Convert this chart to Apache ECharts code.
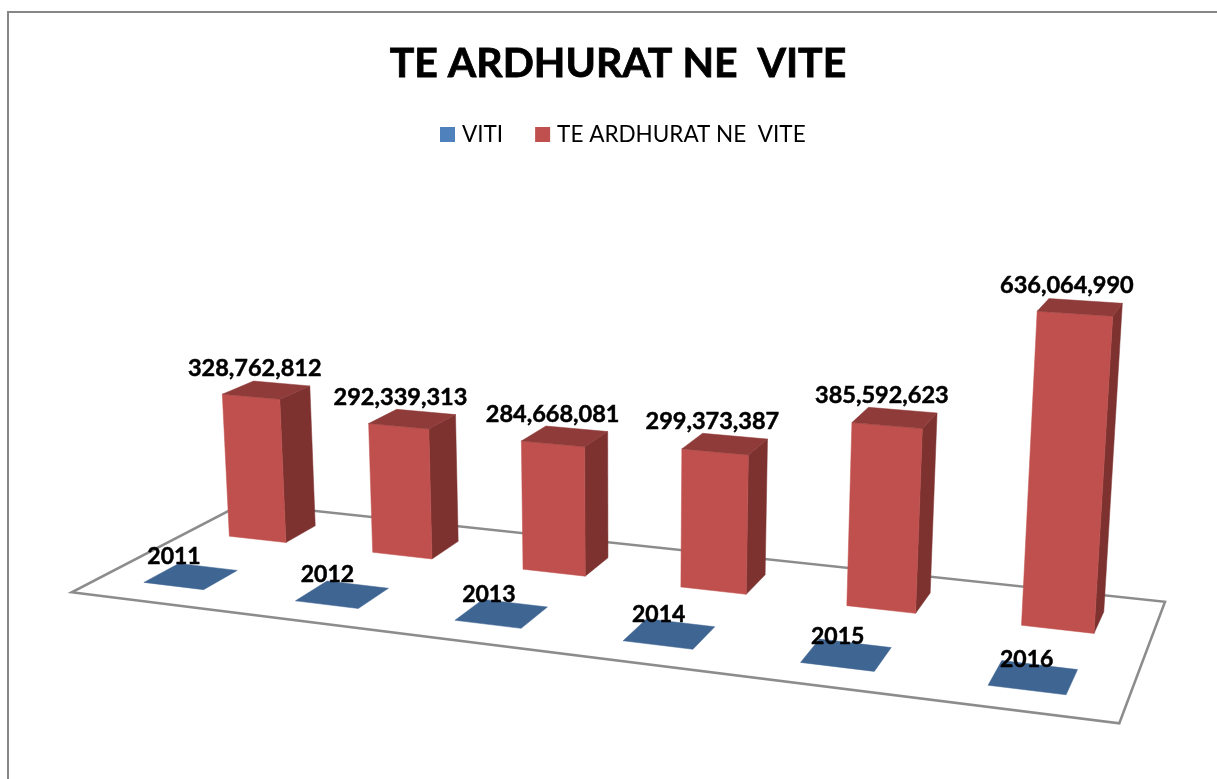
<!DOCTYPE html>
<html>
<head>
<meta charset="utf-8">
<style>html,body{margin:0;padding:0;background:#fff}#c{width:1217px;height:779px}</style>
<script src="https://cdn.jsdelivr.net/npm/echarts@6/dist/echarts.min.js"></script>
</head>
<body>
<div id="c"></div>
<script>
// ---- data ----
const categories = ['2011', '2012', '2013', '2014', '2015', '2016'];
const viti = [2011, 2012, 2013, 2014, 2015, 2016];
const teArdhurat = [328762812, 292339313, 284668081, 299373387, 385592623, 636064990];
const titleText = 'TE ARDHURAT NE  VITE';

// ---- camera: floor square (u,v in 0..1) plus height w (hundreds of millions) to screen ----
const CAM = {
  a: 877.94, b: 206.52, c: 71.7, d: 21.36, e: -16.53, f: 592.3, g: -0.15158, h: 0.14399,
  p: -3.6, q: -49.2, r: -0.00575
};
function project(u, v, w) {
  const W = CAM.g * u + CAM.h * v + 1 + CAM.r * w;
  return [
    (CAM.a * u + CAM.b * v + CAM.c + CAM.p * w) / W,
    (CAM.d * u + CAM.e * v + CAM.f + CAM.q * w) / W
  ];
}
const Y_MAX = 700000000;
const BAR_FRACTION = 0.4;     // share of the category band used by a column
const ROW_HALF_DEPTH = 0.098; // half depth of a column on the floor
const U_SHIFT = -0.0012;      // small sideways nudge of the columns on the floor

function face(points, fill) {
  return { type: 'polygon', silent: true, shape: { points: points }, style: { fill: fill, stroke: fill, lineWidth: 0.5 } };
}
function label(pos, text, size) {
  return {
    type: 'text', silent: true, z2: 10,
    style: {
      x: pos[0], y: pos[1], text: text, fill: '#000', stroke: '#000', lineWidth: 0.5,
      textAlign: 'center', textVerticalAlign: 'middle',
      font: 'bold ' + size + 'px Lato, sans-serif'
    }
  };
}
function column(params, api, row, colors) {
  const cs = params.coordSys;
  const pt = api.coord([api.value(0), api.value(1)]);
  const band = api.size([1, 0])[0];
  const u0 = (pt[0] - cs.x) / cs.width + U_SHIFT;
  const du = (band * BAR_FRACTION / 2) / cs.width;
  const w = ((cs.y + cs.height - pt[1]) / cs.height) * (Y_MAX / 1e8);
  const u1 = u0 - du, u2 = u0 + du, v1 = row - ROW_HALF_DEPTH, v2 = row + ROW_HALF_DEPTH;
  const tFL = project(u1, v1, w), tFR = project(u2, v1, w), tBR = project(u2, v2, w), tBL = project(u1, v2, w);
  const bFL = project(u1, v1, 0), bFR = project(u2, v1, 0), bBR = project(u2, v2, 0);
  return { u: u0, w: w, faces: [
    face([bFR, bBR, tBR, tFR], colors.side),
    face([bFL, bFR, tFR, tFL], colors.front),
    face([tFL, tFR, tBR, tBL], colors.top)
  ] };
}

const BLUE = { front: '#3f6592', side: '#3f6592', top: '#3f6592' };
const RED = { front: '#c0504d', side: '#7d3230', top: '#8e3b39' };

const chart = echarts.init(document.getElementById('c'), null, { renderer: 'canvas' });
chart.setOption({
  animation: false,
  backgroundColor: '#ffffff',
  title: {
    text: titleText, left: 613, top: 38, textAlign: 'center',
    textStyle: { fontFamily: 'Lato', fontWeight: 'bold', fontSize: 41, color: '#000', textBorderColor: '#000', textBorderWidth: 0.8 }
  },
  legend: {
    data: ['VITI', titleText], left: 440, top: 123, itemWidth: 15, itemHeight: 15, itemGap: 32,
    icon: 'rect', selectedMode: false, padding: 0,
    textStyle: { fontFamily: 'Lato', fontSize: 22.5, color: '#000', padding: [0, 0, 0, 2] }
  },
  grid: { left: 0, right: 0, top: 0, bottom: 0 },
  xAxis: { type: 'category', data: categories, show: false },
  yAxis: { type: 'value', min: 0, max: Y_MAX, show: false },
  graphic: [{
    type: 'rect', silent: true, z: -1,
    shape: { x: 8, y: 12, width: 1300, height: 900 },
    style: { fill: 'none', stroke: '#868686', lineWidth: 2 }
  }],
  series: [
    {
      name: 'floor', type: 'custom', coordinateSystem: 'cartesian2d', silent: true, z: 1, clip: false,
      data: [[categories[0], 0]], encode: { x: 0, y: 1 },
      renderItem: function () {
        return {
          type: 'polygon', silent: true,
          shape: { points: [project(0, 0, 0), project(1, 0, 0), project(1, 1, 0), project(0, 1, 0)] },
          style: { fill: '#fff', stroke: '#8c8c8c', lineWidth: 2.5 }
        };
      }
    },
    {
      name: 'VITI', type: 'custom', coordinateSystem: 'cartesian2d', silent: true, z: 2, clip: false,
      itemStyle: { color: '#4f81bd' },
      data: categories.map((c, i) => [c, viti[i]]), encode: { x: 0, y: 1 },
      renderItem: function (params, api) {
        const col = column(params, api, 0.25, BLUE);
        const c = project(col.u, 0.25, col.w);
        const lab = label([c[0] - 18 + 12.5 * col.u, c[1] - 20 + 2 * col.u], String(viti[params.dataIndex]), 23);
        return { type: 'group', children: col.faces.slice(2).concat([lab]) };
      }
    },
    {
      name: titleText, type: 'custom', coordinateSystem: 'cartesian2d', silent: true, z: 3, clip: false,
      itemStyle: { color: '#c0504d' },
      data: categories.map((c, i) => [c, teArdhurat[i]]), encode: { x: 0, y: 1 },
      renderItem: function (params, api) {
        const col = column(params, api, 0.75, RED);
        const c = project(col.u, 0.75, col.w);
        const lab = label([c[0] - 11.5 - 2 * col.u, c[1] - 22], teArdhurat[params.dataIndex].toLocaleString('en-US'), 23.5);
        return { type: 'group', children: col.faces.concat([lab]) };
      }
    }
  ]
});
</script>
</body>
</html>
